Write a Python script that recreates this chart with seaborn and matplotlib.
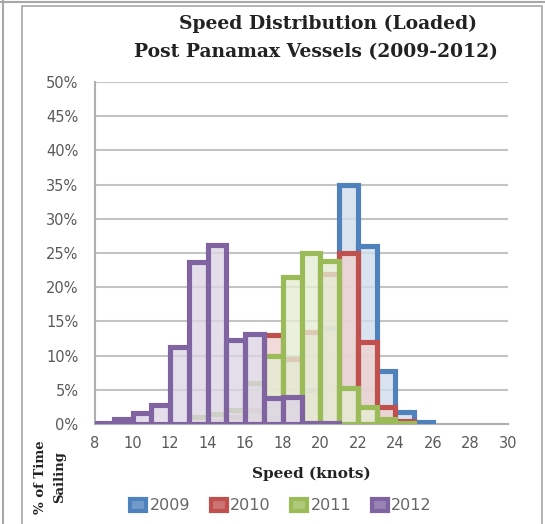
import matplotlib
matplotlib.use("Agg")
import matplotlib.pyplot as plt
from matplotlib.colors import to_rgb
from matplotlib.patches import Patch, Rectangle
from matplotlib.lines import Line2D
from matplotlib.ticker import PercentFormatter
import pandas as pd
import seaborn as sns

# speed bins (knots), each bar covers [speed, speed + 1)
SPEEDS = list(range(8, 30))

# % of time sailing per speed bin
PCT_2009 = [0, 0, 0, 0, 0, 0, 0, 0, 0, 1.0, 3.0, 5.0, 14.0, 35.0, 26.0, 7.7, 1.8, 0.3, 0, 0, 0, 0]
PCT_2010 = [0, 0, 0, 0, 0, 0, 0.5, 1.0, 2.0, 13.0, 9.5, 13.5, 22.0, 25.0, 12.0, 2.5, 0.4, 0, 0, 0, 0, 0]
PCT_2011 = [0, 0, 0, 0, 0, 1.0, 1.5, 2.0, 6.0, 10.0, 21.5, 25.0, 23.8, 5.2, 2.5, 0.8, 0.2, 0, 0, 0, 0, 0]
PCT_2012 = [0.2, 0.7, 1.6, 2.8, 11.2, 23.7, 26.2, 12.3, 13.2, 3.8, 4.0, 0.1, 0.1, 0, 0, 0, 0, 0, 0, 0, 0, 0]

YEARS = ["2009", "2010", "2011", "2012"]
SERIES = [PCT_2009, PCT_2010, PCT_2011, PCT_2012]
COLORS = ["#4F81BD", "#C0504D", "#9BBB59", "#8064A2"]

SERIF = ["DejaVu Serif"]
SANS = ["DejaVu Sans"]
TEXT_GREY = "#5a5a5a"


def light(col, amount=0.2, alpha=0.8):
    r, g, b = to_rgb(col)
    return (1 - amount + amount * r, 1 - amount + amount * g, 1 - amount + amount * b, alpha)


def main():
    sns.set_style("white")
    plt.rcParams["font.family"] = SANS

    fig = plt.figure(figsize=(5.45, 5.24), dpi=100)
    ax = fig.add_axes([95 / 545, 1 - 424 / 524, 413 / 545, 342 / 524])

    # later years drawn on top, as in the original
    for year, values, col in zip(YEARS, SERIES, COLORS):
        df = pd.DataFrame({"speed": SPEEDS, "pct": values})
        used = df[df["pct"] > 0]
        lo, hi = int(used["speed"].min()), int(used["speed"].max())
        df = df[(df["speed"] >= lo) & (df["speed"] <= hi)]
        sns.histplot(
            data=df,
            x="speed",
            weights="pct",
            bins=list(range(lo, hi + 2)),
            element="bars",
            stat="count",
            facecolor=light(col, 0.27, 0.78),
            edgecolor=col,
            linewidth=3.7,
            ax=ax,
            zorder=3,
        )

    ax.set_xlim(8, 30)
    ax.set_ylim(0, 50)
    ax.set_xticks(range(8, 31, 2))
    ax.set_yticks(range(0, 51, 5))
    ax.yaxis.set_major_formatter(PercentFormatter(decimals=0))
    ax.grid(axis="y", color="#c4c4c4", linewidth=1.5, zorder=0)
    ax.set_axisbelow(True)
    ax.tick_params(axis="y", length=0, pad=12, labelsize=10.5, labelcolor=TEXT_GREY)
    ax.tick_params(axis="x", length=0, pad=9, labelsize=10.5, labelcolor=TEXT_GREY)
    for side in ["top", "right"]:
        ax.spines[side].set_visible(False)
    for side in ["left", "bottom"]:
        ax.spines[side].set_color("#b0b0b0")
        ax.spines[side].set_linewidth(1.5)
    ax.set_xlabel("")
    ax.set_ylabel("")

    fig.text(328 / 545, 1 - 24 / 524, "Speed Distribution (Loaded)",
             ha="center", va="center", fontsize=13.5, fontweight="bold",
             family=SERIF, color="#222222")
    fig.text(316 / 545, 1 - 52 / 524, "Post Panamax Vessels (2009-2012)",
             ha="center", va="center", fontsize=13.5, fontweight="bold",
             family=SERIF, color="#222222")
    fig.text(311 / 545, 1 - 474 / 524, "Speed (knots)", ha="center", va="center",
             fontsize=11, fontweight="bold", family=SERIF, color="#222222")
    fig.text(50 / 545, 1 - 477 / 524, "% of Time\nSailing", ha="center", va="center",
             rotation=90, fontsize=9.5, fontweight="bold", family=SERIF,
             multialignment="center", linespacing=1.6, color="#222222")

    handles = [Patch(facecolor=light(c, 0.8, 1), edgecolor=c, linewidth=3)
               for c in COLORS]
    fig.legend(handles, YEARS, loc="center", bbox_to_anchor=(281 / 545, 1 - 506 / 524),
               ncol=4, frameon=False, fontsize=11.5, handlelength=1.0, handleheight=0.8,
               handletextpad=0.2, columnspacing=1.3, labelcolor="#666666")

    # chart area frame and screenshot edges
    fig.patches.append(Rectangle((22 / 545, -0.02), 520 / 545, 1 - 6 / 524 + 0.02,
                                 transform=fig.transFigure, fill=False,
                                 edgecolor="#a8a8a8", linewidth=1.2))
    fig.lines.append(Line2D([0, 1], [1 - 2 / 524] * 2, transform=fig.transFigure,
                            color="#a8a8a8", linewidth=1.5))
    fig.lines.append(Line2D([3 / 545] * 2, [0, 1], transform=fig.transFigure,
                            color="#a8a8a8", linewidth=1.5))

    fig.savefig("out.png", dpi=100)
    plt.close(fig)


if __name__ == "__main__":
    main()
